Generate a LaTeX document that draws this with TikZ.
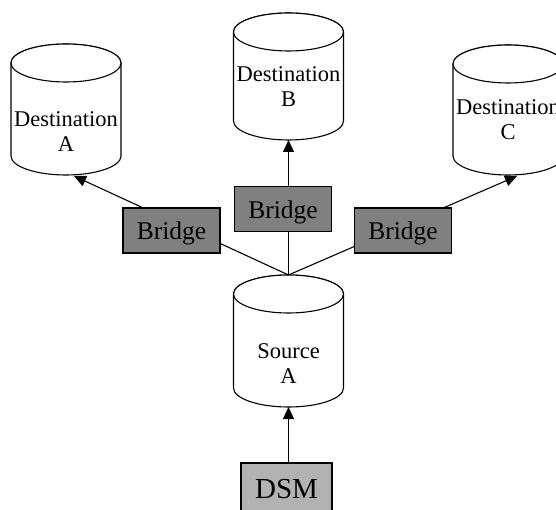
\documentclass[tikz,border=0pt]{standalone}
\usepackage{fontspec}
\setmainfont{Liberation Serif}
\usetikzlibrary{arrows.meta}
\tikzset{
  cylbody/.style={draw=black, fill=white, line width=1.1pt},
  conn/.style={draw=black, line width=1.1pt},
  arr/.style={conn, -{Triangle[length=12pt,width=11pt]}},
  bridgebox/.style={draw=black, fill=gray, line width=1.1pt, minimum width=97pt, minimum height=45pt, inner sep=0pt, text height=19pt, text depth=0pt, font=\fontsize{25.5}{27}\selectfont},
  dsmbox/.style={draw=black, fill=gray!60, line width=1.1pt, minimum width=91pt, minimum height=53pt, inner sep=0pt, text height=17pt, text depth=0pt, font=\fontsize{29}{31}\selectfont},
  cyltext/.style={align=center, inner sep=0pt, font=\fontsize{22.5}{25}\selectfont},
}
\newcommand\drawcyl[4]{%
  \path[cylbody] (#2-55,#3+19) -- (#2-55,#4-19) arc[start angle=180,end angle=360,x radius=55pt,y radius=19pt] -- (#2+55,#3+19) arc[start angle=0,end angle=180,x radius=55pt,y radius=19pt] -- cycle;
  \draw[cylbody] (#2,#3+19) ellipse[x radius=55pt,y radius=19pt];
  \coordinate (#1-top) at (#2,#3);
  \coordinate (#1-bot) at (#2,#4);
}
\begin{document}
\begin{tikzpicture}[x=1pt,y=-1pt]
\useasboundingbox (0,0) rectangle (556,510);
\drawcyl{dA}{66}{44}{175}
\drawcyl{dB}{288.5}{13}{140}
\drawcyl{dC}{508}{45}{175}
\drawcyl{src}{288.5}{275}{407}
\node[cyltext] (tA) at (66,131.8) {Destination\\A};
\node[cyltext] (tB) at (288.5,86.5) {Destination\\B};
\node[cyltext] (tC) at (508,119.8) {Destination\\C};
\node[cyltext] (tS) at (288.5,364) {Source\\A};
\coordinate (tipA) at (74,176);
\coordinate (tipC) at (517,176);
\draw[arr] (src-top) -- (tipA);
\draw[arr] (src-top) -- (dB-bot);
\draw[arr] (src-top) -- (tipC);
\node[bridgebox] (bL) at (171.5,230.5) {Bridge};
\node[bridgebox] (bM) at (283,209) {Bridge};
\node[bridgebox] (bR) at (403,230.5) {Bridge};
\node[dsmbox] (dsm) at (286.5,489.5) {DSM};
\draw[arr] (src-bot |- dsm.north) -- (src-bot);
\end{tikzpicture}
\end{document}
